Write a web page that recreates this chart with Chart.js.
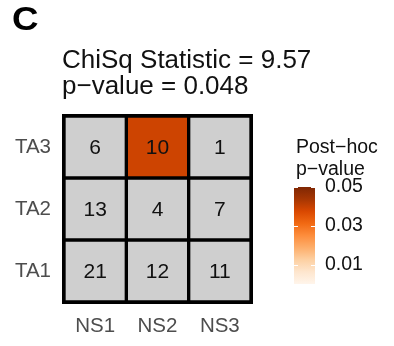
<!DOCTYPE html>
<html>
<head>
<meta charset="utf-8">
<script src="https://cdn.jsdelivr.net/npm/chart.js@4/dist/chart.umd.min.js"></script>
<style>
  html, body { margin: 0; padding: 0; background: #ffffff; }
  #wrap { position: relative; width: 394px; height: 346px; overflow: hidden; }
  #grid { position: absolute; left: 0; top: 0; }
  #bar { position: absolute; left: 294px; top: 170px; }
</style>
</head>
<body>
<div id="wrap">
  <canvas id="grid" width="394" height="346"></canvas>
  <canvas id="bar" width="100" height="130"></canvas>
</div>
<script>
// Contingency table: columns and rows
const columns = ['NS1', 'NS2', 'NS3'];
const rows = ['TA1', 'TA2', 'TA3'];

// Observed counts per row (in column order)
const countsTA1 = [21, 12, 11];
const countsTA2 = [13, 4, 7];
const countsTA3 = [6, 10, 1];

// Post-hoc p-values per row (null = not significant, shown grey)
const posthocTA1 = [null, null, null];
const posthocTA2 = [null, null, null];
const posthocTA3 = [null, 0.039, null];

// Test summary
const chiSqStatistic = '9.57';
const chiSqPValue = '0.048';

// Colour bar range and ticks
const pRange = [0, 0.05];
const pTicks = [0.01, 0.03, 0.05];

const FONT = '"Liberation Sans", Arial, Helvetica, sans-serif';
const NA_COLOR = '#cfcfcf';
const ORANGES = ['#fff5eb', '#fee6ce', '#fdd0a2', '#fdae6b', '#fd8d3c', '#f16913', '#d94801', '#a63603', '#7f2704'];

function hexToRgb(h) {
  const n = parseInt(h.slice(1), 16);
  return [(n >> 16) & 255, (n >> 8) & 255, n & 255];
}
function pColor(p) {
  if (p === null || p === undefined) return NA_COLOR;
  let t = (p - pRange[0]) / (pRange[1] - pRange[0]);
  t = Math.max(0, Math.min(1, t));
  const pos = t * (ORANGES.length - 1);
  const i = Math.min(Math.floor(pos), ORANGES.length - 2);
  const f = pos - i;
  const a = hexToRgb(ORANGES[i]), b = hexToRgb(ORANGES[i + 1]);
  const c = a.map((v, k) => Math.round(v + (b[k] - v) * f));
  return `rgb(${c[0]},${c[1]},${c[2]})`;
}

const rowCounts = [countsTA1, countsTA2, countsTA3];
const rowP = [posthocTA1, posthocTA2, posthocTA3];

// One floating-bar dataset per row: each bar spans [rowIndex, rowIndex + 1]
const datasets = rows.map((r, ri) => ({
  label: r,
  data: columns.map(() => [ri, ri + 1]),
  counts: rowCounts[ri],
  backgroundColor: rowP[ri].map(pColor),
  borderColor: '#000000',
  borderWidth: 2,
  borderSkipped: false,
  grouped: false,
  barPercentage: 1,
  categoryPercentage: 1
}));

const cellText = {
  id: 'cellText',
  afterDatasetsDraw(chart) {
    const ctx = chart.ctx;
    const a = chart.chartArea;
    ctx.save();
    // outer frame
    ctx.strokeStyle = '#000000';
    ctx.lineWidth = 2;
    ctx.strokeRect(a.left - 1, a.top - 1, a.right - a.left + 2, a.bottom - a.top + 2);
    // counts
    ctx.fillStyle = '#111111';
    ctx.font = '21px ' + FONT;
    ctx.textAlign = 'center';
    ctx.textBaseline = 'middle';
    chart.data.datasets.forEach((ds, di) => {
      const meta = chart.getDatasetMeta(di);
      meta.data.forEach((el, i) => {
        ctx.fillText(String(ds.counts[i]), el.x, (el.y + el.base) / 2 + 1);
      });
    });
    ctx.restore();
  },
  afterDraw(chart) {
    const ctx = chart.ctx;
    ctx.save();
    ctx.fillStyle = '#000000';
    ctx.textAlign = 'left';
    ctx.textBaseline = 'alphabetic';
    // panel letter
    ctx.save();
    ctx.translate(12, 30);
    ctx.scale(1.08, 1);
    ctx.font = 'bold 34px ' + FONT;
    ctx.fillText('C', 0, 0);
    ctx.restore();
    ctx.fillStyle = '#111111';
    ctx.font = '26px ' + FONT;
    ctx.fillText('ChiSq Statistic = ' + chiSqStatistic, 62, 68);
    ctx.fillText('p\u2212value = ' + chiSqPValue, 62, 94);
    ctx.font = '19.5px ' + FONT;
    ctx.fillText('Post\u2212hoc', 296, 153);
    ctx.fillText('p\u2212value', 296, 175);
    ctx.restore();
  }
};

new Chart(document.getElementById('grid'), {
  type: 'bar',
  data: { labels: columns, datasets },
  options: {
    responsive: false,
    animation: false,
    devicePixelRatio: 1,
    layout: { padding: { left: 0, top: 116, right: 143, bottom: 0 } },
    plugins: { legend: { display: false }, tooltip: { enabled: false } },
    scales: {
      x: {
        grid: { display: false, drawTicks: false, tickLength: 0 },
        border: { display: false },
        ticks: { color: '#4d4d4d', font: { size: 20.5, family: FONT }, padding: 12, maxRotation: 0 },
        afterFit(s) { s.height = 44; }
      },
      y: {
        min: 0, max: 3,
        grid: { display: false, drawTicks: false, tickLength: 0 },
        border: { display: false },
        afterBuildTicks(s) { s.ticks = rows.map((r, i) => ({ value: i + 0.5 })); },
        ticks: {
          color: '#4d4d4d', font: { size: 20.5, family: FONT }, padding: 13,
          callback: (v) => rows[Math.floor(v)]
        },
        afterFit(s) { s.width = 64; }
      }
    }
  },
  plugins: [cellText]
});

// Colour bar: a single floating bar over the p-value range with a gradient fill
const barTicks = {
  id: 'barTicks',
  afterDatasetsDraw(chart) {
    const ctx = chart.ctx;
    const a = chart.chartArea;
    const y = chart.scales.y;
    ctx.save();
    ctx.strokeStyle = '#ffffff';
    ctx.lineWidth = 1;
    pTicks.forEach(v => {
      const py = Math.round(y.getPixelForValue(v)) + 0.5;
      ctx.beginPath();
      ctx.moveTo(a.left, py); ctx.lineTo(a.left + 4, py);
      ctx.moveTo(a.right - 4, py); ctx.lineTo(a.right, py);
      ctx.stroke();
    });
    ctx.restore();
  }
};

new Chart(document.getElementById('bar'), {
  type: 'bar',
  data: {
    labels: [''],
    datasets: [{
      data: [pRange],
      backgroundColor(c) {
        const area = c.chart.chartArea;
        if (!area) return ORANGES[4];
        const g = c.chart.ctx.createLinearGradient(0, area.bottom, 0, area.top);
        ORANGES.forEach((col, i) => g.addColorStop(i / (ORANGES.length - 1), col));
        return g;
      },
      borderWidth: 0,
      barPercentage: 1,
      categoryPercentage: 1
    }]
  },
  options: {
    responsive: false,
    animation: false,
    devicePixelRatio: 1,
    layout: { padding: { top: 17, bottom: 16, left: 0, right: 0 } },
    plugins: { legend: { display: false }, tooltip: { enabled: false } },
    scales: {
      x: { display: false },
      y: {
        position: 'right',
        min: pRange[0], max: pRange[1],
        grid: { display: false, drawTicks: false, tickLength: 0 },
        border: { display: false },
        afterBuildTicks(s) { s.ticks = pTicks.map(v => ({ value: v })); },
        ticks: { color: '#111111', font: { size: 19.5, family: FONT }, padding: 10, callback: v => v.toFixed(2) },
        afterFit(s) { s.width = 79; s.paddingTop = 0; s.paddingBottom = 0; }
      }
    }
  },
  plugins: [barTicks]
});
</script>
</body>
</html>
